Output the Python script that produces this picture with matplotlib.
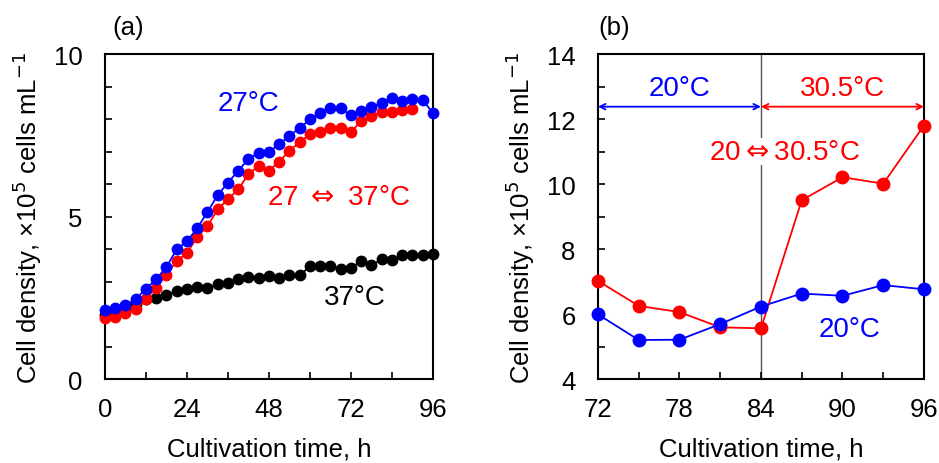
import matplotlib
matplotlib.use("Agg")
import matplotlib.pyplot as plt
from matplotlib.ticker import MultipleLocator

plt.rcParams['font.family'] = ['Liberation Sans', 'DejaVu Sans']
plt.rcParams['mathtext.fontset'] = 'dejavusans'

# ---- Panel (a) data ----
time_a = [0, 3, 6, 9, 12, 15, 18, 21, 24, 27, 30, 33, 36, 39, 42, 45, 48, 51, 54, 57,
          60, 63, 66, 69, 72, 75, 78, 81, 84, 87, 90, 93, 96]
blue_a = [2.11, 2.18, 2.28, 2.45, 2.78, 3.07, 3.45, 3.99, 4.24, 4.64, 5.14, 5.66, 6.04, 6.41,
          6.77, 6.96, 7.00, 7.22, 7.49, 7.72, 7.99, 8.18, 8.33, 8.33, 8.11, 8.25, 8.38, 8.49,
          8.66, 8.56, 8.61, 8.59, 8.18]
red_a = [1.88, 1.90, 2.03, 2.16, 2.47, 2.81, 3.21, 3.63, 3.88, 4.37, 4.71, 5.22, 5.53, 5.84,
         6.30, 6.56, 6.41, 6.69, 7.03, 7.28, 7.54, 7.61, 7.72, 7.72, 7.59, 7.95, 8.10, 8.21,
         8.21, 8.28, 8.30]
black_a = [1.98, 2.05, 2.15, 2.30, 2.45, 2.50, 2.59, 2.70, 2.78, 2.83, 2.80, 2.91, 2.96, 3.07,
           3.14, 3.12, 3.17, 3.12, 3.21, 3.19, 3.47, 3.47, 3.48, 3.37, 3.42, 3.63, 3.50, 3.68,
           3.66, 3.81, 3.81, 3.83, 3.86]

# ---- Panel (b) data ----
time_b = [72, 75, 78, 81, 84, 87, 90, 93, 96]
red_b = [7.02, 6.25, 6.06, 5.59, 5.56, 9.50, 10.21, 10.01, 11.80]
blue_b = [5.99, 5.20, 5.21, 5.69, 6.23, 6.63, 6.56, 6.89, 6.76]

BLUE = '#0000ff'
RED = '#ff0000'
FS = 18.5
AFS = 20

fig = plt.figure(figsize=(9.39, 4.64), dpi=100)
ax1 = fig.add_axes([0.1118, 0.181, 0.3493, 0.7004])
ax2 = fig.add_axes([0.6368, 0.181, 0.3472, 0.7004])

# Panel (a)
ax1.plot(time_a, black_a, '-o', color='black', ms=7.5, lw=1.3, zorder=3)
ax1.plot(time_a[:len(red_a)], red_a, '-o', color=RED, ms=7.5, lw=1.3, zorder=4)
ax1.plot(time_a, blue_a, '-o', color=BLUE, ms=7.5, lw=1.3, zorder=5)
ax1.set_xlim(0, 96)
ax1.set_ylim(0, 10)
ax1.xaxis.set_major_locator(MultipleLocator(24))
ax1.xaxis.set_minor_locator(MultipleLocator(12))
ax1.yaxis.set_major_locator(MultipleLocator(5))
ax1.yaxis.set_minor_locator(MultipleLocator(1))
ax1.text(41.9, 8.49, '27°C', color=BLUE, fontsize=AFS, ha='center', va='center')
ax1.text(68.5, 5.59, r'27 $\Leftrightarrow$ 37°C', color=RED, fontsize=AFS, ha='center', va='center')
ax1.text(73.2, 2.53, '37°C', color='black', fontsize=AFS, ha='center', va='center')
ax1.set_xlabel('Cultivation time, h', fontsize=FS, labelpad=11)
ax1.set_ylabel('Cell density, ×10$^{5}$ cells mL$^{-1}$', fontsize=FS, labelpad=7)
ax1.text(0.07, 1.045, '(a)', transform=ax1.transAxes, fontsize=FS, ha='center', va='bottom')

# Panel (b)
ax2.axvline(84, color='#555555', lw=1.0, zorder=1)
ax2.plot(time_b, red_b, '-o', color=RED, ms=9, lw=1.3, zorder=4)
ax2.plot(time_b, blue_b, '-o', color=BLUE, ms=9, lw=1.3, zorder=5)
ax2.set_xlim(72, 96)
ax2.set_ylim(4, 14)
ax2.xaxis.set_major_locator(MultipleLocator(6))
ax2.xaxis.set_minor_locator(MultipleLocator(3))
ax2.yaxis.set_major_locator(MultipleLocator(2))
ax2.yaxis.set_minor_locator(MultipleLocator(1))
ax2.annotate('', xy=(72, 12.38), xytext=(84, 12.38),
             arrowprops=dict(arrowstyle='<->', color=BLUE, lw=1.3, shrinkA=0, shrinkB=0))
ax2.annotate('', xy=(84, 12.38), xytext=(96, 12.38),
             arrowprops=dict(arrowstyle='<->', color=RED, lw=1.3, shrinkA=0, shrinkB=0))
ax2.text(78, 12.96, '20°C', color=BLUE, fontsize=AFS, ha='center', va='center')
ax2.text(90, 12.96, '30.5°C', color=RED, fontsize=AFS, ha='center', va='center')
ax2.text(85.7, 11.0, r'20$\Leftrightarrow$30.5°C', color=RED, fontsize=AFS, ha='center', va='center',
         bbox=dict(facecolor='white', edgecolor='none', pad=0.3), zorder=3)
ax2.text(90.5, 5.53, '20°C', color=BLUE, fontsize=AFS, ha='center', va='center')
ax2.set_xlabel('Cultivation time, h', fontsize=FS, labelpad=11)
ax2.set_ylabel('Cell density, ×10$^{5}$ cells mL$^{-1}$', fontsize=FS, labelpad=7)
ax2.text(0.05, 1.045, '(b)', transform=ax2.transAxes, fontsize=FS, ha='center', va='bottom')

for ax in (ax1, ax2):
    for s in ax.spines.values():
        s.set_linewidth(1.5)
        s.set_color('black')
    ax.tick_params(which='both', direction='in', length=5, width=1.2, labelsize=FS)
    ax.tick_params(axis='x', which='both', pad=13)
    ax.tick_params(axis='y', which='both', pad=16)
    for m in ax.get_lines():
        m.set_clip_on(False)

fig.savefig('out.png', dpi=100)
